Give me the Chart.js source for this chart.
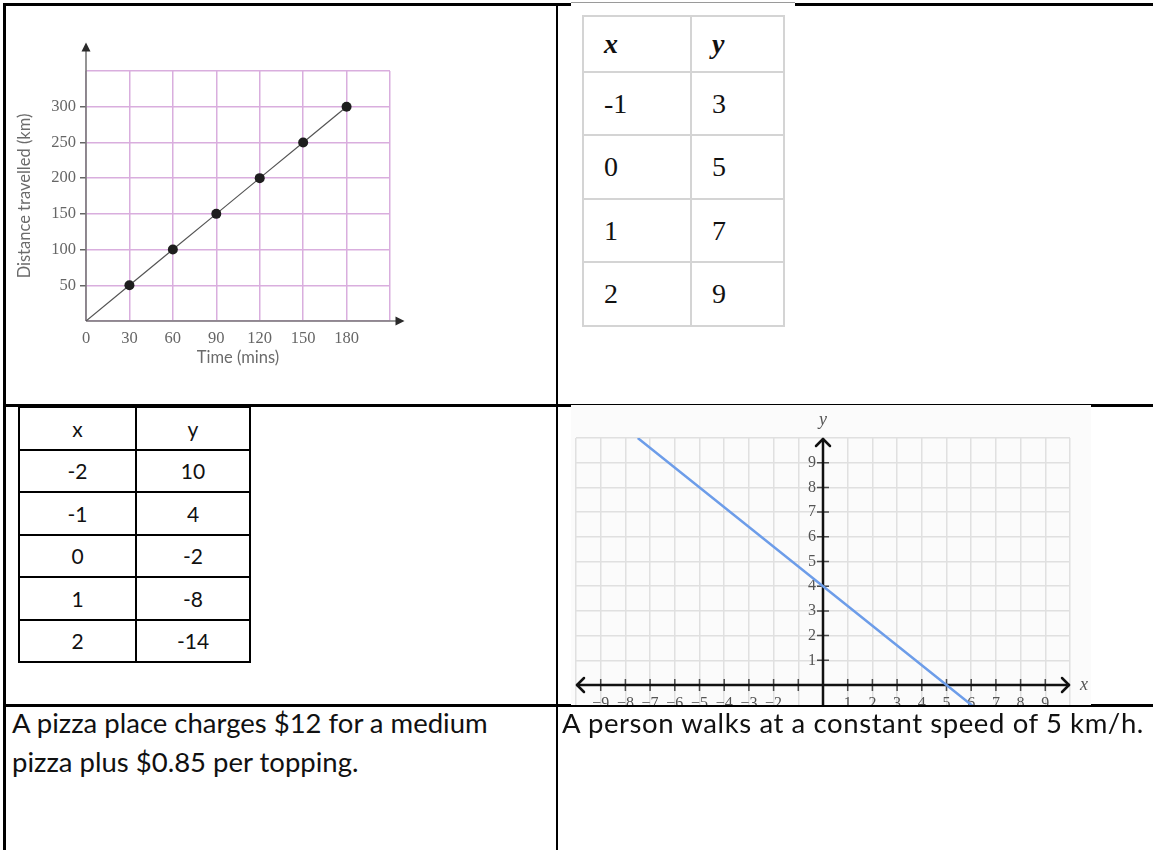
<!DOCTYPE html>
<html>
<head>
<meta charset="utf-8">
<script src="https://cdn.jsdelivr.net/npm/chart.js@4.4.1/dist/chart.umd.min.js"></script>
<style>
  body { margin: 0; width: 1153px; height: 850px; position: relative; overflow: hidden; background: #fff; }
  .linha { position: absolute; background: #000; }
  .tampa { position: absolute; left: 571px; top: 2px; width: 224px; height: 5px; background: #fff; border-top: 1px solid #9a9a9a; }
  #caixaGrafico1 { position: absolute; left: 0; top: 0; width: 450px; height: 380px; }
  #caixaGrafico2 { position: absolute; left: 571px; top: 405px; width: 520px; height: 300px; overflow: hidden; }
  table { position: absolute; border-collapse: collapse; }
  #tabela1 { left: 582px; top: 15px; font-family: 'Liberation Serif', serif; font-size: 28px; color: #111; }
  #tabela1 td { border: 2.5px solid #d4d4d4; padding: 0 0 0 20px; text-align: left; box-sizing: border-box; }
  #tabela1 th { border: 2.5px solid #d4d4d4; padding: 0 0 0 20px; text-align: left; font-style: italic; font-weight: bold; box-sizing: border-box; }
  #tabela2 { left: 18px; top: 406px; font-family: Lato, sans-serif; font-size: 21px; color: #111; }
  #tabela2 td, #tabela2 th { border: 2px solid #000; text-align: center; font-weight: normal; padding: 0; box-sizing: border-box; height: 42.5px; }
  .texto { position: absolute; font-family: Lato, sans-serif; font-size: 27.5px; line-height: 39px; color: #111; }
</style>
</head>
<body>

<div class="linha" style="left:3px; top:3px; width:1150px; height:2.5px;"></div>
<div class="tampa"></div>
<div class="linha" style="left:3px; top:3px; width:2.5px; height:847px;"></div>
<div class="linha" style="left:555.5px; top:3px; width:2.5px; height:847px;"></div>
<div class="linha" style="left:3px; top:404px; width:1150px; height:2.5px;"></div>
<div class="linha" style="left:3px; top:704px; width:1150px; height:2.5px;"></div>

<div id="caixaGrafico1"><canvas id="graficoDistancia" width="450" height="380"></canvas></div>

<table id="tabela1"></table>
<table id="tabela2"></table>

<div id="caixaGrafico2"><canvas id="graficoReta" width="520" height="320"></canvas></div>

<div class="texto" style="left:12px; top:703px; width:535px;">A pizza place charges $12 for a medium pizza plus $0.85 per topping.</div>
<div class="texto" style="left:562px; top:703px; width:588px; letter-spacing:0.6px;">A person walks at a constant speed of 5 km/h.</div>

<script>
// distancia x tempo
const tempos = [0, 30, 60, 90, 120, 150, 180];
const distancias = [0, 50, 100, 150, 200, 250, 300];
const rotulosTempo = [0, 30, 60, 90, 120, 150, 180];
const rotulosDistancia = [50, 100, 150, 200, 250, 300];

// tabelas
const tabela1X = ['-1', '0', '1', '2'];
const tabela1Y = ['3', '5', '7', '9'];
const tabela2X = ['-2', '-1', '0', '1', '2'];
const tabela2Y = ['10', '4', '-2', '-8', '-14'];

// reta no plano cartesiano
const retaX = [-7.5, 0, 5, 6.25];
const retaY = [10, 4, 0, -1];
const rotulosEixoX = [-9, -8, -7, -6, -5, -4, -3, -2, 1, 2, 3, 4, 5, 6, 7, 8, 9];
const rotulosEixoY = [1, 2, 3, 4, 5, 6, 7, 8, 9];

const corGradeRosa = '#d9aede';
const corGradeCinza = '#e0e0e0';
const corReta = '#6d9de9';

function montarTabelas() {
  const t1 = document.getElementById('tabela1');
  const alturas1 = [56, 63, 64, 63, 64];
  let html = `<tr style="height:${alturas1[0]}px"><th style="width:108px">x</th><th style="width:93px">y</th></tr>`;
  tabela1X.forEach((x, i) => {
    html += `<tr style="height:${alturas1[i + 1]}px"><td>${x}</td><td>${tabela1Y[i]}</td></tr>`;
  });
  t1.innerHTML = html;

  const t2 = document.getElementById('tabela2');
  let html2 = '<tr><th style="width:117px">x</th><th style="width:114px">y</th></tr>';
  tabela2X.forEach((x, i) => {
    html2 += `<tr><td>${x}</td><td>${tabela2Y[i]}</td></tr>`;
  });
  t2.innerHTML = html2;
}

// eixos com seta triangular do primeiro grafico
const eixosSeta = {
  id: 'eixosSeta',
  beforeDatasetsDraw(chart) {
    const { ctx, scales: { x, y } } = chart;
    const x0 = x.getPixelForValue(0);
    const y0 = y.getPixelForValue(0);
    const topo = y.getPixelForValue(390);
    const ponta = x.getPixelForValue(220);
    ctx.save();
    ctx.strokeStyle = '#7a7a7a';
    ctx.lineWidth = 1.6;
    ctx.beginPath();
    ctx.moveTo(x0, y0);
    ctx.lineTo(x0, topo + 8);
    ctx.moveTo(x0, y0);
    ctx.lineTo(ponta - 8, y0);
    ctx.stroke();
    ctx.fillStyle = '#2a2a2a';
    ctx.beginPath();
    ctx.moveTo(x0, topo);
    ctx.lineTo(x0 - 4.5, topo + 9);
    ctx.lineTo(x0 + 4.5, topo + 9);
    ctx.closePath();
    ctx.fill();
    ctx.beginPath();
    ctx.moveTo(ponta, y0);
    ctx.lineTo(ponta - 9, y0 - 4.5);
    ctx.lineTo(ponta - 9, y0 + 4.5);
    ctx.closePath();
    ctx.fill();
    ctx.restore();
  }
};

function criarGraficoDistancia() {
  const ctx = document.getElementById('graficoDistancia').getContext('2d');
  new Chart(ctx, {
    type: 'scatter',
    data: {
      datasets: [{
        data: tempos.map((t, i) => ({ x: t, y: distancias[i] })),
        showLine: true,
        borderColor: '#555',
        borderWidth: 1.2,
        backgroundColor: '#1e1e1e',
        pointRadius: c => (c.raw && c.raw.x === 0 ? 0 : 5),
        pointBorderWidth: 0
      }]
    },
    plugins: [eixosSeta],
    options: {
      responsive: false,
      animation: false,
      devicePixelRatio: 1,
      layout: { padding: { left: 0, right: 60, top: 71, bottom: 0 } },
      plugins: { legend: { display: false }, tooltip: { enabled: false } },
      scales: {
        x: {
          type: 'linear',
          min: 0,
          max: 210,
          afterFit: s => { s.height = 59; },
          grid: { color: corGradeRosa, lineWidth: 1.5, drawTicks: false },
          border: { display: false },
          ticks: {
            stepSize: 30,
            padding: 8,
            maxRotation: 0,
            autoSkip: false,
            color: '#666',
            font: { family: 'Liberation Serif', size: 16.5 },
            callback: v => (rotulosTempo.includes(v) ? String(v) : '')
          },
          title: {
            display: true,
            text: 'Time (mins)',
            color: '#6b6b6b',
            font: { family: 'Lato', size: 16.5 },
            padding: { top: 0, bottom: 12 }
          }
        },
        y: {
          type: 'linear',
          min: 0,
          max: 350,
          afterFit: s => { s.width = 86; },
          grid: {
            color: corGradeRosa,
            lineWidth: 1.5,
            tickLength: 6,
            tickColor: c => (rotulosDistancia.includes(c.tick.value) ? '#666' : 'rgba(0,0,0,0)'),
            tickWidth: 1.5
          },
          border: { display: false },
          ticks: {
            stepSize: 50,
            padding: 4,
            autoSkip: false,
            color: '#666',
            font: { family: 'Liberation Serif', size: 16.5 },
            callback: v => (rotulosDistancia.includes(v) ? String(v) : '')
          },
          title: {
            display: true,
            text: 'Distance travelled (km)',
            color: '#6b6b6b',
            font: { family: 'Lato', size: 16.5 },
            padding: { top: 15, bottom: 0 }
          }
        }
      }
    }
  });
}

// fundo, eixos pretos com setas abertas, marcas e numeros do plano cartesiano
const eixosPlano = {
  id: 'eixosPlano',
  beforeDraw(chart) {
    const ctx = chart.ctx;
    ctx.save();
    ctx.fillStyle = '#fbfbfb';
    ctx.fillRect(0, 0, chart.width, chart.height);
    ctx.restore();
  },
  beforeDatasetsDraw(chart) {
    const { ctx, scales: { x, y } } = chart;
    const x0 = x.getPixelForValue(0);
    const y0 = y.getPixelForValue(0);
    const xEsq = x.getPixelForValue(x.min);
    const xDir = x.getPixelForValue(x.max);
    const yTopo = y.getPixelForValue(y.max);
    const yBase = y.getPixelForValue(y.min);
    ctx.save();

    ctx.strokeStyle = '#4a4a4a';
    ctx.lineWidth = 1.5;
    ctx.beginPath();
    x.ticks.forEach(t => {
      if (t.value === 0 || Math.abs(t.value) >= 10) return;
      const px = x.getPixelForValue(t.value);
      ctx.moveTo(px, y0 - 6);
      ctx.lineTo(px, y0 + 6);
    });
    y.ticks.forEach(t => {
      if (t.value <= 0 || t.value >= 10) return;
      const py = y.getPixelForValue(t.value);
      ctx.moveTo(x0 - 6, py);
      ctx.lineTo(x0 + 6, py);
    });
    ctx.stroke();

    ctx.strokeStyle = '#111';
    ctx.lineWidth = 2.5;
    ctx.lineCap = 'round';
    ctx.beginPath();
    ctx.moveTo(xEsq + 1, y0);
    ctx.lineTo(xDir - 1, y0);
    ctx.moveTo(x0, yBase);
    ctx.lineTo(x0, yTopo + 1);
    ctx.stroke();

    ctx.lineJoin = 'round';
    ctx.beginPath();
    ctx.moveTo(xEsq + 8, y0 - 7);
    ctx.lineTo(xEsq + 1, y0);
    ctx.lineTo(xEsq + 8, y0 + 7);
    ctx.moveTo(xDir - 8, y0 - 7);
    ctx.lineTo(xDir - 1, y0);
    ctx.lineTo(xDir - 8, y0 + 7);
    ctx.moveTo(x0 - 7, yTopo + 8);
    ctx.lineTo(x0, yTopo + 1);
    ctx.lineTo(x0 + 7, yTopo + 8);
    ctx.stroke();

    ctx.fillStyle = '#555';
    ctx.font = '16px "Liberation Serif"';
    ctx.textBaseline = 'middle';
    ctx.textAlign = 'right';
    rotulosEixoY.forEach(v => ctx.fillText(String(v), x0 - 7, y.getPixelForValue(v)));
    ctx.textAlign = 'center';
    ctx.textBaseline = 'top';
    rotulosEixoX.forEach(v => ctx.fillText(String(v).replace('-', '\u2212'), x.getPixelForValue(v), y0 + 11));

    ctx.font = 'italic 18px "Liberation Serif"';
    ctx.textBaseline = 'middle';
    ctx.fillText('y', x0, yTopo - 18);
    ctx.fillText('x', xDir + 14, y0);
    ctx.restore();
  }
};

function criarGraficoReta() {
  const ctx = document.getElementById('graficoReta').getContext('2d');
  new Chart(ctx, {
    type: 'scatter',
    data: {
      datasets: [{
        data: retaX.map((v, i) => ({ x: v, y: retaY[i] })),
        showLine: true,
        borderColor: corReta,
        borderWidth: 2.5,
        pointRadius: 0
      }]
    },
    plugins: [eixosPlano],
    options: {
      responsive: false,
      animation: false,
      devicePixelRatio: 1,
      layout: { padding: { left: 5, right: 21, top: 33, bottom: 15.3 } },
      plugins: { legend: { display: false }, tooltip: { enabled: false } },
      scales: {
        x: {
          type: 'linear',
          min: -10,
          max: 10,
          grid: { color: corGradeCinza, lineWidth: 1.5, drawTicks: false },
          border: { display: false },
          ticks: { stepSize: 1, autoSkip: false, display: false },
          afterFit: s => { s.height = 0; }
        },
        y: {
          type: 'linear',
          min: -1,
          max: 10,
          grid: { color: corGradeCinza, lineWidth: 1.5, drawTicks: false },
          border: { display: false },
          ticks: { stepSize: 1, autoSkip: false, display: false },
          afterFit: s => { s.width = 0; }
        }
      }
    }
  });
}

montarTabelas();
criarGraficoDistancia();
criarGraficoReta();
</script>
</body>
</html>
